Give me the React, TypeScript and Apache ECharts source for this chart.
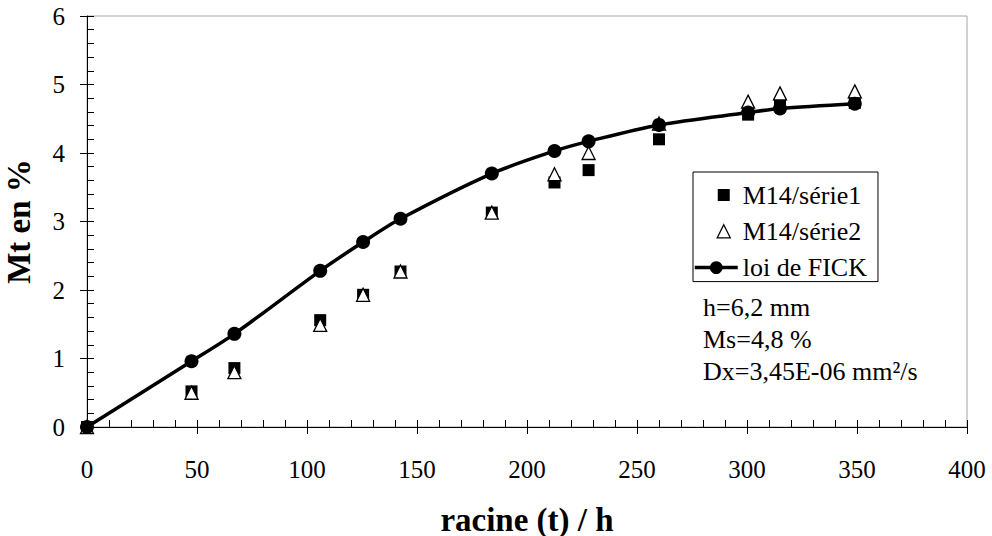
import React, { useEffect, useRef } from "react";
import * as echarts from "echarts";

// ---- data ----
const xValues = [0, 47.5, 67, 106, 125.5, 142.5, 184, 212.5, 228, 260, 300.5, 315, 349];
const serie1 = [0, 0.52, 0.86, 1.56, 1.93, 2.27, 3.13, 3.57, 3.75, 4.2, 4.56, 4.7, 4.73];
const serie2 = [0, 0.5, 0.8, 1.49, 1.93, 2.27, 3.13, 3.69, 4.0, 4.43, 4.75, 4.87, 4.9];
const fick = [0, 0.96, 1.36, 2.28, 2.7, 3.04, 3.7, 4.03, 4.17, 4.41, 4.59, 4.65, 4.72];
const seriesNames = ["M14/série1", "M14/série2", "loi de FICK"];
const annotationLines = ["h=6,2 mm", "Ms=4,8 %", "Dx=3,45E-06 mm²/s"];
const xTitle = "racine (t) / h";
const yTitle = "Mt en %";
const xRange = { min: 0, max: 400, interval: 50 };
const yRange = { min: 0, max: 6, interval: 1 };

const FONT = "Liberation Serif";

// legend icons (padded so the marker sits where the reference shows it)
const squareIcon = "path://M0,0M43,16M23,2H35V14H23Z";
const triangleIcon = "path://M0,0M43,16M29,1.5L35.5,14.5L22.5,14.5Z";

export default function App() {
  const ref = useRef<HTMLDivElement>(null);

  useEffect(() => {
    if (!ref.current) return;
    const chart = echarts.init(ref.current, null, { renderer: "svg" });
    const pairs = (ys: number[]) => xValues.map((x, i) => [x, ys[i]]);
    const black = "#000";
    const labelStyle = { fontSize: 25, fontFamily: FONT, color: black };
    const titleStyle = { fontSize: 33, fontWeight: "bold", fontFamily: FONT, color: black };

    chart.setOption({
      animation: false,
      backgroundColor: "#fff",
      textStyle: { fontFamily: FONT },
      grid: {
        left: 87,
        right: 25,
        top: 16,
        bottom: 109,
        containLabel: false,
        outerBoundsMode: "none",
        show: true,
        borderColor: "#a6a6a6",
        borderWidth: 1,
      },
      xAxis: [
        {
          type: "value",
          ...xRange,
          position: "bottom",
          splitLine: { show: false },
          axisLine: { show: true, lineStyle: { color: black, width: 1 } },
          axisTick: { show: true, inside: true, length: 7, lineStyle: { color: black } },
          minorTick: { show: true, splitNumber: 5, length: 7, lineStyle: { color: black } },
          axisLabel: { show: false },
        },
        {
          type: "value",
          ...xRange,
          position: "bottom",
          splitLine: { show: false },
          axisLine: { show: false },
          axisTick: { show: true, inside: false, length: 7, lineStyle: { color: black } },
          axisLabel: { show: true, margin: 30, ...labelStyle },
          name: xTitle,
          nameLocation: "middle",
          nameGap: 76,
          nameTextStyle: titleStyle,
        },
      ],
      yAxis: [
        {
          type: "value",
          ...yRange,
          position: "left",
          splitLine: { show: false },
          axisLine: { show: true, lineStyle: { color: black, width: 1 } },
          axisTick: { show: true, inside: true, length: 7, lineStyle: { color: black } },
          minorTick: { show: true, splitNumber: 5, length: 7, lineStyle: { color: black } },
          axisLabel: { show: false },
        },
        {
          type: "value",
          ...yRange,
          position: "left",
          splitLine: { show: false },
          axisLine: { show: false },
          axisTick: { show: true, inside: false, length: 7, lineStyle: { color: black } },
          axisLabel: { show: true, margin: 22, ...labelStyle },
          name: yTitle,
          nameLocation: "middle",
          nameGap: 52,
          nameTextStyle: titleStyle,
        },
      ],
      legend: {
        orient: "vertical",
        left: 693,
        top: 172,
        padding: [10, 11, 1, 0],
        itemGap: 10.3,
        itemWidth: 43,
        itemHeight: 16,
        borderColor: black,
        borderWidth: 1,
        backgroundColor: "#fff",
        textStyle: { fontSize: 26, fontFamily: FONT, color: black },
        itemStyle: { borderWidth: "inherit" },
        lineStyle: { width: "inherit" },
        data: [
          { name: seriesNames[0], icon: squareIcon },
          { name: seriesNames[1], icon: triangleIcon },
          { name: seriesNames[2] },
        ],
      },
      graphic: [
        {
          type: "text",
          left: 703,
          top: 291,
          style: {
            text: annotationLines.join("\n"),
            fontSize: 26,
            fontFamily: FONT,
            fill: black,
            lineHeight: 32,
          },
        },
      ],
      series: [
        {
          type: "scatter",
          name: seriesNames[0],
          xAxisIndex: 0,
          yAxisIndex: 0,
          data: pairs(serie1),
          symbol: "rect",
          symbolSize: 12,
          itemStyle: { color: black, opacity: 1 },
          z: 3,
        },
        {
          type: "scatter",
          name: seriesNames[1],
          xAxisIndex: 0,
          yAxisIndex: 0,
          data: pairs(serie2),
          symbol: "triangle",
          symbolSize: 13,
          itemStyle: { color: "#fff", borderColor: black, borderWidth: 1.3, opacity: 1 },
          z: 4,
        },
        {
          type: "line",
          name: seriesNames[2],
          xAxisIndex: 0,
          yAxisIndex: 0,
          data: pairs(fick),
          smooth: 0.3,
          symbol: "circle",
          symbolSize: 14,
          showSymbol: true,
          lineStyle: { color: black, width: 3.5 },
          itemStyle: { color: black, opacity: 1 },
          z: 5,
        },
      ],
    });
    return () => chart.dispose();
  }, []);

  return (
    <div
      ref={ref}
      style={{ position: "fixed", left: 0, top: 0, width: 992, height: 536, background: "#fff" }}
    />
  );
}
